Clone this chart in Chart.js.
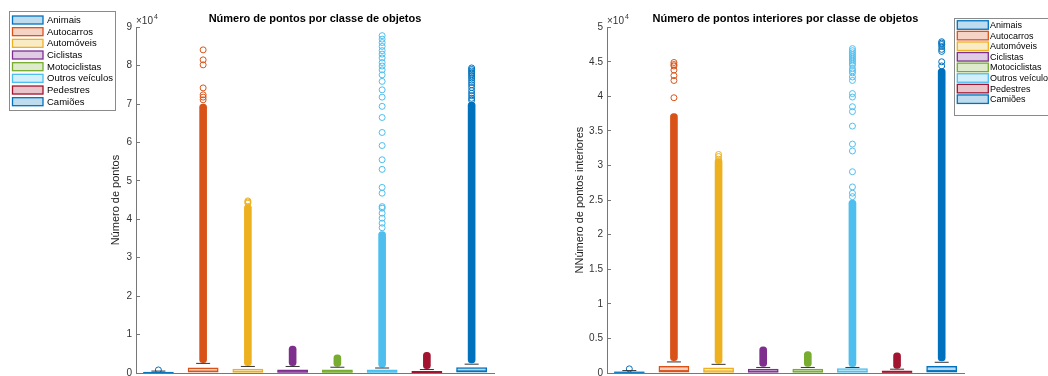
<!DOCTYPE html>
<html><head><meta charset="utf-8">
<script src="https://cdn.jsdelivr.net/npm/chart.js@4.4.1/dist/chart.umd.min.js"></script>
<style>
html,body{margin:0;padding:0;background:#fff;width:1048px;height:376px;overflow:hidden}
.wrap{position:absolute;top:0;width:524px;height:376px}
canvas{display:block}
</style></head><body>
<div class="wrap" style="left:0"><canvas id="c1" width="524" height="376"></canvas></div>
<div class="wrap" style="left:524px"><canvas id="c2" width="524" height="376"></canvas></div>
<script>
// ---------- DATA ----------
const categories = ['Animais','Autocarros','Automóveis','Ciclistas','Motociclistas','Outros veículos','Pedestres','Camiões'];
const colors = ['#0072BD','#D95319','#EDB120','#7E2F8E','#77AC30','#4DBEEE','#A2142F','#0072BD'];

const titleLeft = 'Número de pontos por classe de objetos';
const yLabelLeft = 'Número de pontos';
const ticksLeft = [0,10000,20000,30000,40000,50000,60000,70000,80000,90000];
const ptsQ1 = [50, 100, 80, 60, 60, 50, 30, 100];
const ptsMedian = [150, 500, 400, 300, 300, 300, 150, 550];
const ptsQ3 = [250, 1400, 1100, 900, 900, 900, 500, 1500];
const ptsWhiskerHi = [500, 2500, 1700, 1700, 1500, 1300, 900, 2300];
const ptsDenseLo = [null, 2700, 1900, 1900, 1700, 1500, 1100, 2600];
const ptsDenseHi = [null, 70000, 43800, 7000, 4700, 36800, 5400, 70500];
const ptsOutAnimais = [800];
const ptsOutAutocarros = [84100, 81500, 80200, 74200, 72400, 71800, 71100];
const ptsOutAutomoveis = [44800, 44500, 44200, 43000];
const ptsOutCiclistas = [];
const ptsOutMotociclistas = [];
const ptsOutOutros = [87800, 86900, 86000, 85000, 83900, 83000, 82000, 80800, 79900, 78900, 77600, 75900, 73700, 71800, 69400, 66500, 62600, 59200, 55500, 53000, 48300, 46800, 43300, 42900, 41600, 40300, 39000, 37800];
const ptsOutPedestres = [];
const ptsOutCamioes = [79400, 79000, 78600, 78200, 77800, 77300, 76800, 76200, 75600, 75000, 74300, 73500, 72800, 72200, 71500, 71000];

const titleRight = 'Número de pontos interiores por classe de objetos';
const yLabelRight = 'NNúmero de pontos interiores';
const ticksRight = [0,5000,10000,15000,20000,25000,30000,35000,40000,45000,50000];
const intQ1 = [30, 60, 50, 40, 40, 40, 20, 60];
const intMedian = [100, 350, 300, 250, 250, 250, 120, 350];
const intQ3 = [200, 1000, 800, 600, 600, 700, 350, 1000];
const intWhiskerHi = [350, 1600, 1250, 800, 800, 800, 550, 1550];
const intDenseLo = [null, 1800, 1400, 950, 950, 900, 650, 1750];
const intDenseHi = [null, 37500, 31000, 3800, 3100, 25000, 2900, 44000];
const intOutAnimais = [600];
const intOutAutocarros = [44900, 44600, 44400, 43800, 43000, 42300, 39800];
const intOutAutomoveis = [31600, 31300, 30900, 30500, 30000, 29500, 29000, 28500, 28000, 27500];
const intOutCiclistas = [];
const intOutMotociclistas = [];
const intOutOutros = [46900, 46600, 46300, 46000, 45700, 45400, 45100, 44800, 44500, 44000, 43700, 43400, 42800, 42300, 40400, 39900, 38500, 37800, 35700, 33100, 32100, 29100, 26900, 26000, 25500];
const intOutPedestres = [];
const intOutCamioes = [47900, 47700, 47500, 47200, 46800, 46500, 45000, 44400];

// ---------- HELPERS ----------
const FONT = "'Liberation Sans', Arial, Helvetica, sans-serif";
Chart.defaults.font.family = FONT;
function rgba(hex, a){const n=parseInt(hex.slice(1),16);return `rgba(${n>>16&255},${n>>8&255},${n&255},${a})`;}

function buildDatasets(q1, med, q3, wh, dLo, dHi, outs){
  const ds = [];
  ds.push({type:'line', data: wh.map((v,i)=>({x:categories[i], y:v})), showLine:false,
    pointStyle:'line', pointRadius:7, pointHoverRadius:7, pointBorderColor:'#333', pointBorderWidth:1, order:0});
  categories.forEach((c,i)=>{
    ds.push({type:'line', data: outs[i].map(v=>({x:c, y:v})), showLine:false, pointStyle:'circle',
      pointRadius:3, pointBorderWidth:1, pointBorderColor:colors[i], pointBackgroundColor:'rgba(0,0,0,0)', order:1});
  });
  ds.push({type:'bar', data: categories.map((c,i)=> dLo[i]==null ? null : [dLo[i], dHi[i]]),
    backgroundColor: colors, borderWidth:0, barThickness:7, borderRadius:3.5, borderSkipped:false, grouped:false, order:2});
  ds.push({type:'line', data: med.map((v,i)=>({x:categories[i], y:v})), showLine:false,
    pointStyle:'line', pointRadius:15, pointBorderColor:colors, pointBorderWidth:1, order:2.5});
  ds.push({type:'bar', data: categories.map((c,i)=>[q1[i], q3[i]]),
    backgroundColor: colors.map(c=>rgba(c,0.28)), borderColor: colors, borderWidth:1.5, borderSkipped:false,
    barPercentage:0.69, categoryPercentage:1, grouped:false, order:3});
  return ds;
}

function legendPlugin(L){
  return {id:'boxLegend', afterDraw(chart){
    const ctx = chart.ctx; ctx.save();
    ctx.fillStyle = '#fff'; ctx.fillRect(L.x, L.y, L.w, L.h);
    ctx.strokeStyle = '#8a8a8a'; ctx.lineWidth = 1; ctx.strokeRect(L.x+0.5, L.y+0.5, L.w, L.h);
    ctx.font = L.fs + 'px ' + FONT; ctx.textBaseline = 'middle'; ctx.textAlign = 'left';
    categories.forEach((lab,i)=>{
      const cy = L.firstY + i*L.step;
      ctx.fillStyle = rgba(colors[i], 0.25); ctx.fillRect(L.bx, cy-L.bh/2, L.bw, L.bh);
      ctx.strokeStyle = colors[i]; ctx.lineWidth = 1.3; ctx.strokeRect(L.bx, cy-L.bh/2, L.bw, L.bh);
      ctx.fillStyle = '#000'; ctx.fillText(lab, L.tx, cy+0.5);
    });
    ctx.restore();
  }};
}
const expPlugin = {id:'exp', afterDraw(chart){
  const ctx = chart.ctx, a = chart.chartArea; ctx.save();
  ctx.fillStyle = '#333'; ctx.textBaseline = 'alphabetic'; ctx.textAlign = 'left';
  ctx.font = '10px ' + FONT; ctx.fillText('×10', a.left, a.top - 3);
  const w = ctx.measureText('×10').width;
  ctx.font = '7px ' + FONT; ctx.fillText('4', a.left + w + 1, a.top - 8);
  ctx.restore();
}};

function makeChart(id, title, ylabel, ticks, datasets, pad, titlePadTop, legend){
  return new Chart(document.getElementById(id), {
    type:'bar',
    data:{labels: categories, datasets},
    options:{
      responsive:false, animation:false, events:[],
      layout:{padding:pad, autoPadding:false},
      plugins:{
        legend:{display:false}, tooltip:{enabled:false},
        title:{display:true, text:title, color:'#000', font:{size:11, weight:'bold'}, padding:{top:12,bottom:2}, fullSize:false}
      },
      scales:{
        x:{type:'category', offset:true, grid:{display:false}, ticks:{display:false},
           border:{display:true, color:'#777'},
           afterFit(s){s.height=0; s.paddingLeft=0; s.paddingRight=0;}},
        y:{min:ticks[0], max:ticks[ticks.length-1],
           afterBuildTicks(s){s.ticks = ticks.map(v=>({value:v}));},
           ticks:{callback:v=>String(v/10000), font:{size:10}, color:'#333', padding:8},
           grid:{drawOnChartArea:false, drawTicks:true, tickLength:-4, color:'#777'},
           border:{display:true, color:'#777'},
           title:{display:true, text:ylabel, color:'#222', font:{size:11}, padding:{top:titlePadTop,bottom:0}},
           afterFit(s){s.width=36; s.paddingTop=0; s.paddingBottom=0;}}
      }
    },
    plugins:[legendPlugin(legend), expPlugin]
  });
}

makeChart('c1', titleLeft, yLabelLeft, ticksLeft,
  buildDatasets(ptsQ1, ptsMedian, ptsQ3, ptsWhiskerHi, ptsDenseLo, ptsDenseHi,
    [ptsOutAnimais, ptsOutAutocarros, ptsOutAutomoveis, ptsOutCiclistas, ptsOutMotociclistas, ptsOutOutros, ptsOutPedestres, ptsOutCamioes]),
  {left:100, right:30, top:0, bottom:3}, 9,
  {x:9, y:11, w:106, h:99, bx:12.5, bw:30.5, bh:8, tx:47, firstY:20, step:11.67, fs:9.5});

makeChart('c2', titleRight, yLabelRight, ticksRight,
  buildDatasets(intQ1, intMedian, intQ3, intWhiskerHi, intDenseLo, intDenseHi,
    [intOutAnimais, intOutAutocarros, intOutAutomoveis, intOutCiclistas, intOutMotociclistas, intOutOutros, intOutPedestres, intOutCamioes]),
  {left:47, right:84, top:0, bottom:3}, 2.5,
  {x:430, y:18, w:110, h:97, bx:433.3, bw:31, bh:8.5, tx:466, firstY:25, step:10.6, fs:9});
</script>
</body></html>
